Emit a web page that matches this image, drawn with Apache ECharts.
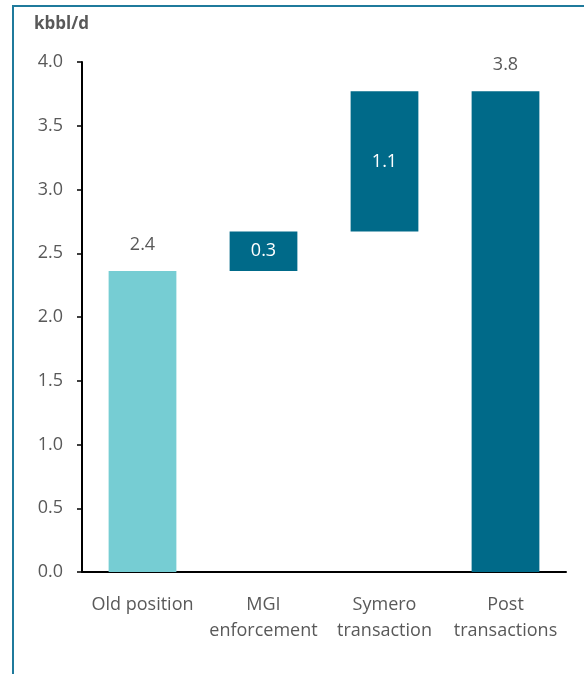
<!DOCTYPE html>
<html>
<head>
<meta charset="utf-8">
<script src="https://cdn.jsdelivr.net/npm/echarts@6/dist/echarts.min.js"></script>
<style>
  html, body { margin: 0; padding: 0; background: #fff; }
  #chart { width: 584px; height: 674px; }
</style>
</head>
<body>
<div id="chart"></div>
<script>
const categories = ['Old position', 'MGI\nenforcement', 'Symero\ntransaction', 'Post\ntransactions']
const values = [2.36, 0.31, 1.10, 3.77]
const isTotal = [true, false, false, true]
const yTicks = [0, 0.5, 1, 1.5, 2, 2.5, 3, 3.5, 4]

const textColor = '#595959'
const lightTeal = '#76cdd3'
const darkTeal = '#006a89'
const font = '"Open Sans", sans-serif'

// invisible base for the floating steps
let running = 0
const base = values.map((v, i) => {
  if (isTotal[i]) { running = v; return 0 }
  const b = running
  running += v
  return b
})

const barData = values.map((v, i) => ({
  value: v,
  itemStyle: { color: i === 0 ? lightTeal : darkTeal },
  label: isTotal[i]
    ? { position: 'top', distance: 17, color: textColor }
    : { position: 'inside', color: '#ffffff' },
}))

const chart = echarts.init(document.getElementById('chart'))

chart.setOption({
  animation: false,
  backgroundColor: '#ffffff',
  textStyle: { fontFamily: font },
  graphic: [
    {
      type: 'rect',
      shape: { x: 13, y: 6, width: 620, height: 720 },
      style: { fill: 'none', stroke: '#1f7a9c', lineWidth: 2 },
      silent: true,
    },
    {
      type: 'text',
      left: 34,
      top: 16,
      style: { text: 'kbbl/d', fill: textColor, font: 'bold 17px ' + font },
    },
  ],
  grid: { left: 82, right: 18, top: 62, bottom: 102, containLabel: false },
  xAxis: {
    type: 'category',
    data: categories,
    axisLine: { lineStyle: { color: '#000000', width: 2 } },
    axisTick: { show: false },
    axisLabel: { color: textColor, fontSize: 18, lineHeight: 26, margin: 20, interval: 0 },
  },
  yAxis: {
    type: 'value',
    min: yTicks[0],
    max: yTicks[yTicks.length - 1],
    interval: 0.5,
    axisLine: { show: true, lineStyle: { color: '#000000', width: 2 } },
    axisTick: { show: true, length: 5, lineStyle: { color: '#000000', width: 1.5 } },
    splitLine: { show: false },
    axisLabel: {
      color: textColor,
      fontSize: 18,
      margin: 19,
      formatter: (v) => v.toFixed(1),
    },
  },
  series: [
    {
      type: 'bar',
      stack: 'wf',
      data: base,
      barWidth: '56%',
      itemStyle: { color: 'transparent' },
      emphasis: { disabled: true },
      silent: true,
    },
    {
      type: 'bar',
      stack: 'wf',
      data: barData,
      barWidth: '56%',
      label: {
        show: true,
        fontSize: 18,
        fontFamily: font,
        formatter: (p) => p.value.toFixed(1),
      },
    },
  ],
})
</script>
</body>
</html>
